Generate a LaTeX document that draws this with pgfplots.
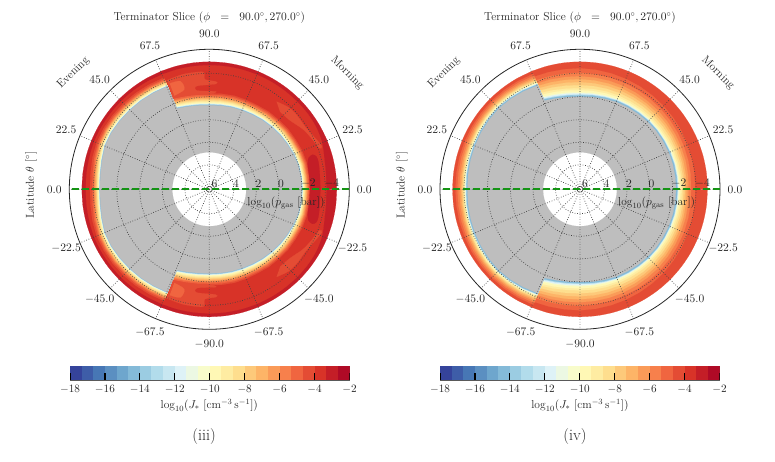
\documentclass[border=0pt]{standalone}
\usepackage{fix-cm}
\usepackage{fontspec}
\usepackage{pgfplots}
\usepackage{pgfplotstable}
\usepgfplotslibrary{polar}
\pgfplotsset{compat=1.18}

% discretised RdYlBu_r, one colour per colourbar level
\definecolor{c0}{HTML}{35439B}\definecolor{c1}{HTML}{3E5DA8}\definecolor{c2}{HTML}{4777B5}
\definecolor{c3}{HTML}{5B8FC1}\definecolor{c4}{HTML}{6EA6CD}\definecolor{c5}{HTML}{84BAD8}
\definecolor{c6}{HTML}{9BCCE2}\definecolor{c7}{HTML}{B2DCEB}\definecolor{c8}{HTML}{C8E7F1}
\definecolor{c9}{HTML}{DEF2F7}\definecolor{c10}{HTML}{ECF8E3}\definecolor{c11}{HTML}{F8FCCB}
\definecolor{c12}{HTML}{FFF8B5}\definecolor{c13}{HTML}{FEECA2}\definecolor{c14}{HTML}{FEDE8E}
\definecolor{c15}{HTML}{FDC97A}\definecolor{c16}{HTML}{FDB467}\definecolor{c17}{HTML}{FA9B58}
\definecolor{c18}{HTML}{F7804C}\definecolor{c19}{HTML}{F06540}\definecolor{c20}{HTML}{E44C34}
\definecolor{c21}{HTML}{D83328}\definecolor{c22}{HTML}{C41E27}\definecolor{c23}{HTML}{AF0A26}
\definecolor{txt}{HTML}{262626}
\definecolor{nogas}{HTML}{BEBEBE}
\definecolor{eqline}{HTML}{149414}

% outer edge of each contour band, radius on the polar axis, northern half
\pgfplotstableread{
th c22 c21 c20 c19 c18 c17 c16 c15 c14 c13 c12 c11 c9 c7 c5 g hole
0 127.5 117 100.8 99.8 98.7 98 97.3 96.6 95.9 95.2 94.5 93.8 93.5 93.1 92.8 92.4 36.7
7.5 127.5 117.5 100.7 99.7 98.6 97.9 97.2 96.5 95.8 95.1 94.4 93.7 93.4 93 92.7 92.3 36.7
15 127.5 119 101 99.9 98.8 98 97.3 96.5 95.8 95 94.3 93.5 93.1 92.8 92.4 92 36.7
22.5 127.5 122 100.6 99.4 98.2 97.4 96.6 95.8 95 94.2 93.4 92.6 92.2 91.8 91.4 91 36.7
30 127.5 123.5 99.6 98.4 97.2 96.4 95.6 94.8 94 93.2 92.4 91.6 91.2 90.8 90.4 90 36.7
37.5 127.5 124 99.2 97.9 96.7 95.8 95 94.1 93.3 92.4 91.6 90.7 90.3 89.9 89.4 89 36.7
45 127.5 124 98.2 96.9 95.7 94.8 94 93.1 92.3 91.4 90.6 89.7 89.3 88.9 88.4 88 36.7
52.5 127.5 124 97.8 96.5 95.1 94.2 93.3 92.4 91.5 90.6 89.7 88.8 88.4 87.9 87.5 87 36.7
60 127.5 124 96.8 95.5 94.1 93.2 92.3 91.4 90.5 89.6 88.7 87.8 87.4 86.9 86.5 86 36.7
67.5 127.5 124 96.7 95.3 93.9 92.9 92 91 90.1 89.1 88.2 87.2 86.7 86.3 85.8 85.3 36.7
75 127.5 124 96.8 95.3 93.8 92.8 91.8 90.8 89.8 88.8 87.8 86.8 86.3 85.8 85.3 84.8 36.7
82.5 127.5 124 96.3 94.8 93.3 92.3 91.3 90.3 89.3 88.3 87.3 86.3 85.8 85.3 84.8 84.3 36.7
90 127.5 124 96 94.5 93 92 91 90 89 88 87 86 85.5 85 84.5 84 36.7
97.5 127.5 124 96.5 95 93.5 92.5 91.5 90.5 89.5 88.5 87.5 86.5 86 85.5 85 84.5 36.7
105 127.5 124 97.5 96 94.5 93.5 92.5 91.5 90.5 89.5 88.5 87.5 87 86.5 86 85.5 36.7
111.9 127.5 124 99 97.5 96 95 94 93 92 91 90 89 88.5 88 87.5 87 36.7
112.1 127.5 124 120.5 118.8 117.6 116.8 116 115.3 114.6 113.8 113.1 112.4 112 111.6 111.3 111 36.7
120 127.5 124.2 120.8 119.1 117.9 117.1 116.3 115.6 114.9 114.1 113.4 112.7 112.3 111.9 111.6 111.3 36.7
127.5 127.5 124.4 121.2 119.5 118.3 117.5 116.7 116 115.3 114.5 113.8 113.1 112.7 112.3 112 111.7 36.7
135 127.5 124.5 121.5 119.8 118.6 117.8 117 116.3 115.6 114.8 114.1 113.4 113 112.6 112.3 112 36.7
142.5 127.5 124.5 121.8 120.3 119.1 118.3 117.5 116.8 116.1 115.3 114.6 113.9 113.5 113.1 112.8 112.5 36.7
150 127.5 124.5 122 120.5 119.4 118.6 117.9 117.2 116.5 115.8 115.1 114.4 114 113.6 113.3 113 36.7
157.5 127.5 124.5 122 120.4 119.3 118.5 117.8 117.1 116.4 115.6 114.9 114.2 113.8 113.4 113.1 112.8 36.7
165 127.5 124 121 119.2 117.8 116.9 116.1 115.3 114.5 113.7 113 112.3 111.9 111.6 111.3 111 36.7
172.5 127.5 123.7 119.8 117.6 116.2 115.3 114.5 113.7 112.9 112.3 111.6 111 110.6 110.3 110.1 109.8 36.7
180 127.5 123.5 119.3 117 115.6 114.7 113.9 113.1 112.3 111.7 111 110.4 110 109.8 109.6 109.3 36.7
}\tableiii

\pgfplotstableread{
th c20 c19 c18 c17 c16 c15 c14 c13 c12 c11 c9 c7 c5 g hole
0 127.5 115 111 108.5 106.5 105 103.5 102 100.5 99.5 98.5 97.9 97.3 96 36.7
7.5 127.5 115.5 111.5 108.9 106.8 105.2 103.5 101.9 100.4 99.3 98.4 97.9 97.3 96 36.7
15 127.5 116 111.9 109.3 107.1 105.3 103.6 101.8 100.3 99.1 98.3 97.9 97.3 96 36.7
22.5 127.5 116.5 112.4 109.6 107.4 105.5 103.6 101.8 100.1 98.9 98.2 97.6 97.1 96 36.7
30 127.5 117 112.8 110 107.7 105.7 103.7 101.7 100 98.7 98 97.5 97 95.8 36.7
37.5 127.5 117.5 113.3 110.4 108 105.8 103.7 101.6 99.9 98.6 97.9 97.4 96.9 95.7 36.7
45 127.5 118 113.8 110.8 108.3 106 103.8 101.5 99.8 98.5 97.8 97.2 96.7 95.5 36.7
52.5 127.5 118.5 114.2 111.1 108.5 106.2 103.8 101.4 99.6 98.3 97.5 96.9 96.3 95.1 36.7
60 127.5 119 114.7 111.5 108.8 106.3 103.8 101.3 99.5 98.1 97.2 96.6 96 94.7 36.7
67.5 127.5 119.5 115.1 111.9 109.1 106.5 103.9 101.3 99.4 97.9 97 96.4 95.8 94.5 36.7
75 127.5 120 115.6 112.3 109.4 106.7 103.9 101.2 99.3 97.4 96.4 95.7 95 93.7 36.7
82.5 127.5 120.5 116 112.6 109.7 106.8 104 101.1 99.1 97.2 96.2 95.2 94.4 93.1 36.7
90 127.5 121 116.5 113 110 107 104 101 99 97 96 94.6 93.8 92.5 36.7
97.5 127.5 121 116.7 113.2 110.3 107.4 104.5 101.5 99.6 97.6 96.5 95.2 94.3 93 36.7
105 127.5 121.2 117 113.6 110.8 108 105.4 102.6 100.6 98.6 97.5 96.2 95.3 94 36.7
111.9 127.5 121.5 117.5 114 111.5 109 106.5 104 102 100 98.8 97.6 96.8 95.5 36.7
112.1 127.5 124.5 122.5 120.8 119.3 118 117 116 115.2 114.5 113.9 113.4 113 112.1 36.7
120 127.5 124.7 123 121.3 120 118.8 117.9 117 116.2 115.5 115 114.5 114 113 36.7
127.5 127.5 124.9 123.2 121.7 120.4 119.3 118.4 117.6 116.9 116.2 115.7 115.2 114.7 113.8 36.7
135 127.5 125 123.5 122 120.8 119.8 118.9 118.2 117.5 116.8 116.3 115.9 115.4 114.5 36.7
142.5 127.5 125 123.3 121.8 120.6 119.6 118.7 118 117.3 116.6 116.1 115.7 115.2 114.3 36.7
150 127.5 124.9 123.2 121.6 120.3 119.3 118.4 117.7 117 116.3 115.8 115.4 114.9 114 36.7
157.5 127.5 124.8 123 121.4 120 119 118.1 117.4 116.7 116 115.5 115.1 114.6 113.7 36.7
165 127.5 124.7 122.8 121 119.6 118.6 117.7 117 116.3 115.6 115.1 114.7 114.2 113.2 36.7
172.5 127.5 124.6 122.6 120.7 119.2 118.2 117.3 116.6 115.9 115.3 114.8 114.4 113.9 112.8 36.7
180 127.5 124.5 122.5 120.5 119 118 117 116.3 115.6 115 114.5 114 113.5 112.5 36.7
}\tableiv

% small closed contours of panel (iii)
\pgfplotstableread{
th r
111.4 117
102.7 118
93 117.5
92.3 110
86.5 108
86.5 105.5
97 104
97 99.5
86 98
90 95
100 96
111.8 98
}\tongueA
\pgfplotstableread{
th r
110.5 113
105 112
104 103
110.5 100
}\tongueB
\pgfplotstableread{
th r
52.5 110.5
46 114
40 114.7
33 114.5
27 117
21 120.5
20.5 117.5
27 114
33 111
40.7 106
47.7 105
}\tongueC
\pgfplotstableread{
th r
0 111
8 111.5
14 112.5
17 112
18.5 109
17.5 104
14 101.5
8 100.8
0 100.8
}\patchD

% a contour is stored for the north; the panels are mirror images about the equator
\newcommand\halfband[4][]{%
  \addplot[#1,fill=c#4,draw=c#4,line width=.15pt] table[x=th,y=#3] {#2};
  \addplot[#1,fill=c#4,draw=c#4,line width=.15pt] table[x expr=360-\thisrow{th},y=#3] {#2};
}
\newcommand\graybands[1]{%
  \addplot[fill=nogas,draw=nogas,line width=.15pt] table[x=th,y=g] {#1};
  \addplot[fill=nogas,draw=nogas,line width=.15pt] table[x expr=360-\thisrow{th},y=g] {#1};
  \addplot[smooth,fill=white,draw=white,line width=.15pt] table[x=th,y=hole] {#1};
  \addplot[smooth,fill=white,draw=white,line width=.15pt] table[x expr=360-\thisrow{th},y=hole] {#1};
}
\newcommand\cbseg[3]{%
  \addplot[fill=c#1,draw=c#1,line width=.1pt] coordinates {(#2,0)(#3,0)(#3,1)(#2,1)} -- cycle;
}
\newcommand\cbtick[1]{%
  \addplot[black,line width=1.2pt] coordinates {(#1,0)(#1,.5)};
}

\pgfplotsset{
  lat panel/.style={
    scale only axis, width=280pt, height=280pt, anchor=center,
    clip=false, axis on top,
    xmin=0, xmax=360, ymin=0, ymax=140,
    xtick={0,22.5,...,337.5},
    xticklabels={$0.0$,$22.5$,$45.0$,$67.5$,$90.0$,$67.5$,$45.0$,$22.5$,$0.0$,$-22.5$,$-45.0$,$-67.5$,$-90.0$,$-67.5$,$-45.0$,$-22.5$},
    ytick={3,24.5,47,69.5,92.5,116},
    yticklabels={$6$,$4$,$2$,$0$,$-2$,$-4$},
    grid=major,
    grid style={black!75,line width=.7pt,dash pattern=on .7pt off 1.8pt},
    major tick length=0pt,
    axis line style={txt,line width=.8pt},
    y axis line style={draw=none},
    xticklabel style={font=\fontsize{11.5}{13}\selectfont,text=txt,inner sep=0pt,anchor=center,shift={(\tick:15pt)}},
    yticklabel style={font=\fontsize{11.5}{13}\selectfont,text=txt,inner sep=0pt,anchor=south west,xshift=-1pt,yshift=1.5pt},
  },
  % only the equator, laid over the grid of the panel below it
  eq overlay/.style={
    scale only axis, width=280pt, height=280pt, anchor=center,
    clip=false, hide axis,
    xmin=0, xmax=360, ymin=0, ymax=140,
  },
  jbar/.style={
    scale only axis, width=279.5pt, height=14pt, anchor=south west,
    xmin=-18, xmax=-2, ymin=0, ymax=1,
    xtick={-18,-16,...,-2}, ytick=\empty,
    major tick length=0pt,
    axis line style={black!65,line width=.8pt},
    xticklabel style={font=\fontsize{11.2}{13}\selectfont,text=txt,yshift=-1.5pt},
  },
}
\newcommand\equator[1]{%
  \begin{polaraxis}[eq overlay, at={(#1,272.7pt)}]
    \addplot[draw=eqline,line width=2pt,dash pattern=on 7pt off 3pt] coordinates {(180,137) (0,139.5)};
  \end{polaraxis}
}
\newcommand\jbars{%
  \cbseg{0}{-18}{-17.333}\cbseg{1}{-17.333}{-16.667}\cbseg{2}{-16.667}{-16}
  \cbseg{3}{-16}{-15.333}\cbseg{4}{-15.333}{-14.667}\cbseg{5}{-14.667}{-14}
  \cbseg{6}{-14}{-13.333}\cbseg{7}{-13.333}{-12.667}\cbseg{8}{-12.667}{-12}
  \cbseg{9}{-12}{-11.333}\cbseg{10}{-11.333}{-10.667}\cbseg{11}{-10.667}{-10}
  \cbseg{12}{-10}{-9.333}\cbseg{13}{-9.333}{-8.667}\cbseg{14}{-8.667}{-8}
  \cbseg{15}{-8}{-7.333}\cbseg{16}{-7.333}{-6.667}\cbseg{17}{-6.667}{-6}
  \cbseg{18}{-6}{-5.333}\cbseg{19}{-5.333}{-4.667}\cbseg{20}{-4.667}{-4}
  \cbseg{21}{-4}{-3.333}\cbseg{22}{-3.333}{-2.667}\cbseg{23}{-2.667}{-2}
  \cbtick{-18}\cbtick{-16}\cbtick{-14}\cbtick{-12}\cbtick{-10}\cbtick{-8}\cbtick{-6}\cbtick{-4}\cbtick{-2}
}
% text around one panel, #1 is the panel centre in x
\newcommand\paneltext[1]{%
  \begin{scope}[shift={(#1,0)},every node/.style={text=txt,font=\fontsize{11.5}{13}\selectfont}]
    \node at (0pt,444pt) {Terminator Slice ($\phi\;\ =\;\ 90.0^\circ, 270.0^\circ$)};
    \node[rotate=45] at (-136pt,389pt) {Evening};
    \node[rotate=-45] at (138pt,389pt) {Morning};
    \node[rotate=90] at (-178.3pt,277pt) {Latitude $\theta$ [$^\circ$]};
    \node at (76.7pt,259pt) {$\log_{10}(p_{\mathrm{gas}}\ [\mathrm{bar}])$};
    \node at (0pt,57pt) {$\log_{10}(J_{*}\ [\mathrm{cm}^{-3}\,\mathrm{s}^{-1}])$};
  \end{scope}
}

\begin{document}
\begin{tikzpicture}[x=1pt,y=1pt]
\path[use as bounding box] (0pt,0pt) rectangle (775pt,462pt);

\begin{polaraxis}[lat panel, at={(209.3pt,272.7pt)}]
  \halfband[smooth]{\tableiii}{c22}{22}
  \halfband[smooth]{\tableiii}{c21}{21}
  \halfband{\tableiii}{c20}{20}
  \halfband{\tableiii}{c19}{19}
  \halfband{\tableiii}{c18}{18}
  \halfband{\tableiii}{c17}{17}
  \halfband{\tableiii}{c16}{16}
  \halfband{\tableiii}{c15}{15}
  \halfband{\tableiii}{c14}{14}
  \halfband{\tableiii}{c13}{13}
  \halfband{\tableiii}{c12}{12}
  \halfband{\tableiii}{c11}{11}
  \halfband{\tableiii}{c9}{9}
  \halfband{\tableiii}{c7}{7}
  \halfband{\tableiii}{c5}{5}
  \graybands{\tableiii}
  \halfband[smooth]{\tongueA}{r}{20}
  \halfband[smooth]{\tongueB}{r}{19}
  \halfband[smooth]{\tongueC}{r}{20}
  \halfband[smooth]{\patchD}{r}{22}
\end{polaraxis}
\equator{209.3pt}

\begin{polaraxis}[lat panel, at={(580pt,272.7pt)}]
  \halfband[smooth]{\tableiv}{c20}{20}
  \halfband{\tableiv}{c19}{19}
  \halfband{\tableiv}{c18}{18}
  \halfband{\tableiv}{c17}{17}
  \halfband{\tableiv}{c16}{16}
  \halfband{\tableiv}{c15}{15}
  \halfband{\tableiv}{c14}{14}
  \halfband{\tableiv}{c13}{13}
  \halfband{\tableiv}{c12}{12}
  \halfband{\tableiv}{c11}{11}
  \halfband{\tableiv}{c9}{9}
  \halfband{\tableiv}{c7}{7}
  \halfband{\tableiv}{c5}{5}
  \graybands{\tableiv}
\end{polaraxis}
\equator{580pt}

\begin{axis}[jbar, at={(70pt,82pt)}]
  \jbars
\end{axis}
\begin{axis}[jbar, at={(440pt,82pt)}]
  \jbars
\end{axis}

\paneltext{209.3pt}
\paneltext{580pt}
\node[text=txt,font=\fontsize{16}{18}\selectfont] at (204pt,25pt) {(iii)};
\node[text=txt,font=\fontsize{16}{18}\selectfont] at (575pt,25pt) {(iv)};
\end{tikzpicture}
\end{document}
